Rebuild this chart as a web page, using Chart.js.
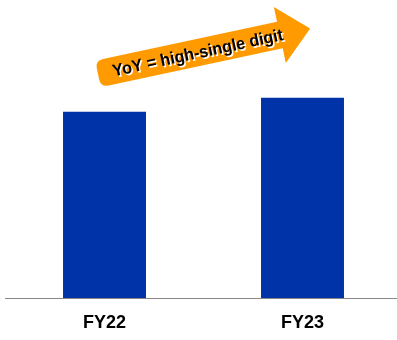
<!DOCTYPE html>
<html>
<head>
<meta charset="utf-8">
<script src="https://cdn.jsdelivr.net/npm/chart.js@4/dist/chart.umd.min.js"></script>
<style>
  html, body { margin: 0; padding: 0; background: #fff; overflow: hidden; }
  /* a bit wider than the window: the axis runs off the right edge in the original */
  #wrap { width: 402px; height: 340px; }
</style>
</head>
<body>
<div id="wrap"><canvas id="chart"></canvas></div>
<script>
// values (FY22 indexed to 100)
var categories = ["FY22", "FY23"]
var revenue = [100, 107.5]
var arrowText = "YoY = high-single digit"

// orange growth arrow drawn on top of the chart
var arrowPlugin = {
    id: 'yoyArrow',
    afterDraw: function(chart) {
        var ctx = chart.ctx
        ctx.save()
        ctx.translate(98, 74)
        ctx.rotate(-12.1 * Math.PI / 180)
        var shaftLen = 186, half = 13.5, headHalf = 28.6, headLen = 31, r = 8
        ctx.fillStyle = "#FF9A00"
        ctx.beginPath()
        ctx.moveTo(r, -half)
        ctx.lineTo(shaftLen, -half)
        ctx.lineTo(shaftLen, -headHalf)
        ctx.lineTo(shaftLen + headLen, 0)
        ctx.lineTo(shaftLen, headHalf)
        ctx.lineTo(shaftLen, half)
        ctx.lineTo(r, half)
        ctx.quadraticCurveTo(0, half, 0, half - r)
        ctx.lineTo(0, -half + r)
        ctx.quadraticCurveTo(0, -half, r, -half)
        ctx.closePath()
        ctx.fill()

        ctx.font = "bold 17px 'Liberation Sans', Arial, sans-serif"
        ctx.textAlign = "center"
        ctx.textBaseline = "middle"
        ctx.shadowColor = "#fff"
        ctx.shadowOffsetX = 1.5
        ctx.shadowOffsetY = 1.5
        ctx.fillStyle = "#000"
        ctx.fillText(arrowText, 102, 1, 174)
        ctx.restore()
    }
}

new Chart(document.getElementById("chart"), {
    type: 'bar',
    data: {
        labels: categories,
        datasets: [{
            data: revenue,
            backgroundColor: "#0033A8",
            categoryPercentage: 1,
            barPercentage: 0.419
        }]
    },
    options: {
        responsive: true,
        maintainAspectRatio: false,
        animation: false,
        layout: { padding: { left: 5.5, right: 0.5, top: 0, bottom: 0 } },
        plugins: { legend: { display: false }, tooltip: { enabled: false } },
        scales: {
            x: {
                grid: { display: false, drawTicks: false },
                border: { display: true, color: "#888", width: 1 },
                ticks: {
                    color: "#000",
                    padding: 14,
                    font: { family: "'Liberation Sans', Arial, sans-serif", size: 18, weight: "bold" }
                },
                afterFit: function(scale) { scale.height = 42 }
            },
            y: { display: false, min: 0, max: 160 }
        }
    },
    plugins: [arrowPlugin]
})
</script>
</body>
</html>
